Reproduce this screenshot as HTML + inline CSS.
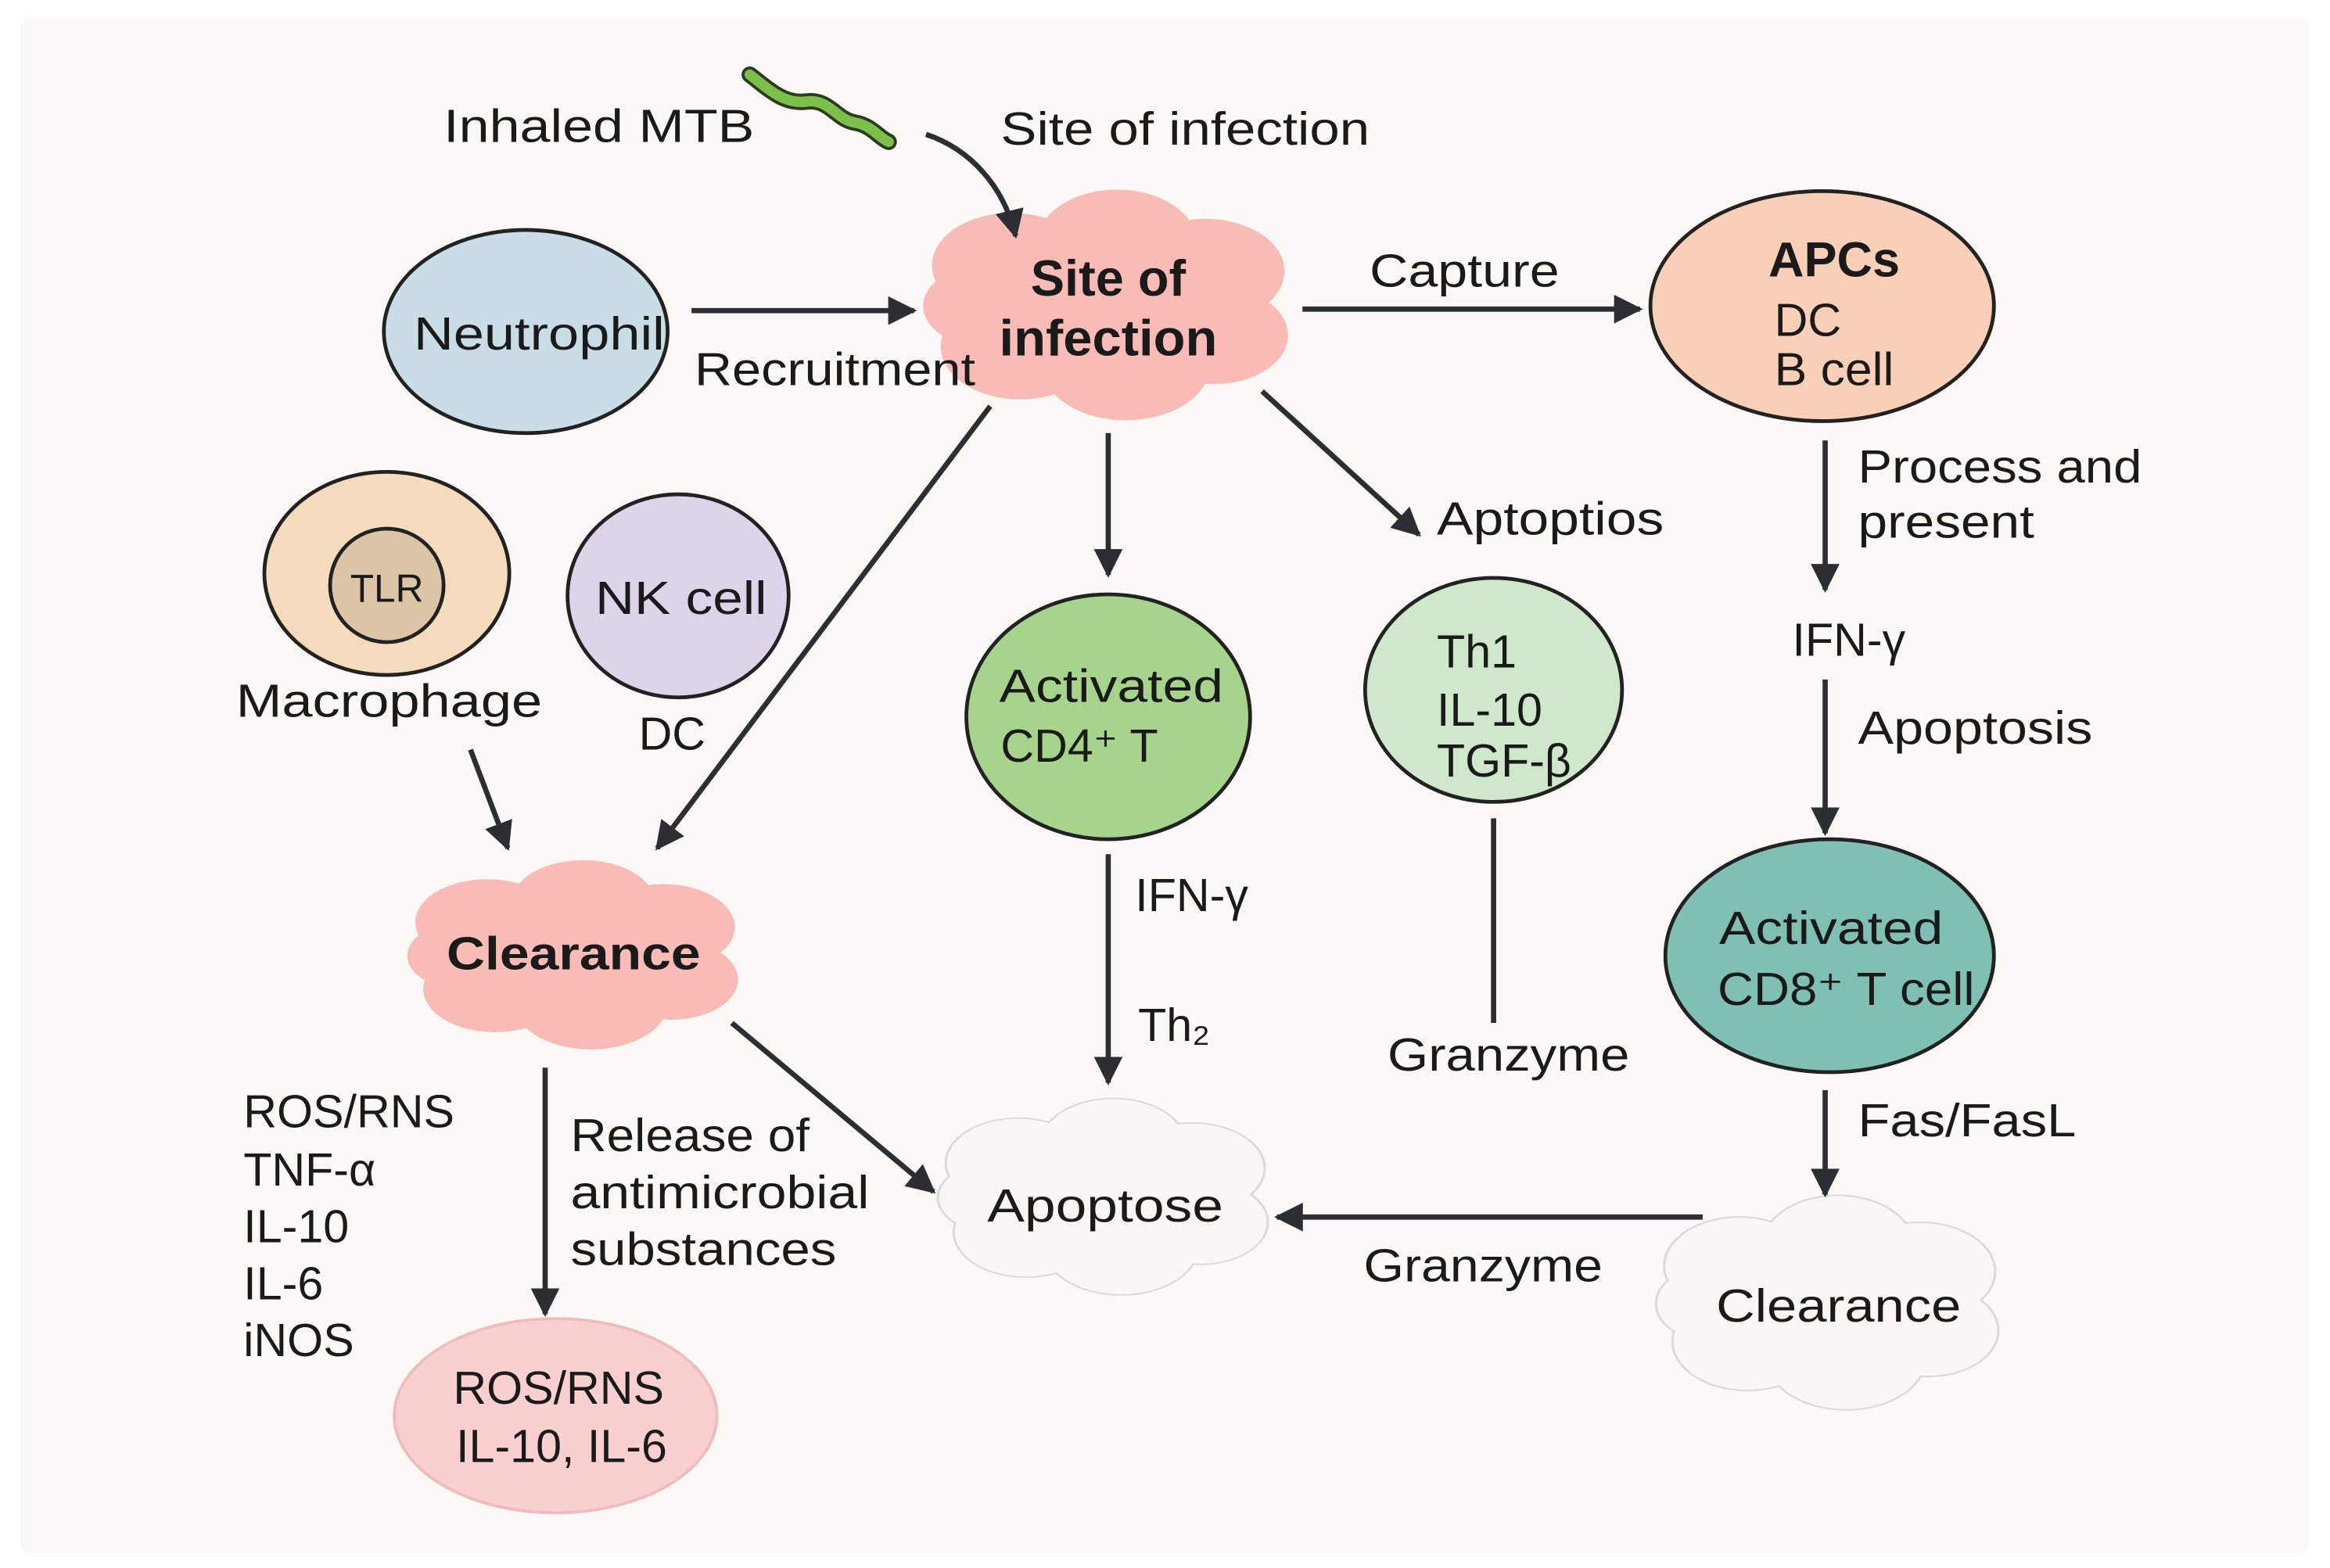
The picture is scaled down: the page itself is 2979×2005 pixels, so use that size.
<!DOCTYPE html>
<html><head><meta charset="utf-8"><style>
html,body{margin:0;padding:0;background:#fff;}
svg{display:block;}
text{font-family:"Liberation Sans",sans-serif;fill:#1a1a1a;}
</style></head><body>
<svg width="2979" height="2005" viewBox="0 0 1560 1050" preserveAspectRatio="none" xmlns="http://www.w3.org/2000/svg">
<defs>
<marker id="a" viewBox="0 0 10 10" refX="9" refY="5" markerWidth="5.5" markerHeight="5.5" orient="auto"><path d="M0,0 L10,5 L0,10 z" fill="#2b2e33"/></marker>
<g id="cl">
<circle cx="-0.55" cy="-0.35" r="0.45"/><circle cx="0.05" cy="-0.55" r="0.45"/><circle cx="0.55" cy="-0.3" r="0.45"/>
<circle cx="0.6" cy="0.25" r="0.42"/><circle cx="0.1" cy="0.5" r="0.48"/><circle cx="-0.5" cy="0.35" r="0.45"/>
<circle cx="-0.7" cy="0" r="0.35"/><circle cx="0" cy="0" r="0.6"/>
</g>
</defs>
<rect width="1560" height="1050" fill="#ffffff"/>
<rect x="14" y="12" width="1532" height="1028" rx="6" fill="#fcf8f5"/>

<!-- clouds -->
<g transform="translate(742,205) scale(118,78)" fill="#f9bbb5"><use href="#cl"/></g>
<g transform="translate(385,640) scale(107,64)" fill="#f9bbb5"><use href="#cl"/></g>
<g transform="translate(740,802) scale(106,66)" fill="#fbf6f4" stroke="#dcd9d7" stroke-width="0.03"><use href="#cl"/></g>
<g transform="translate(740,802) scale(106,66)" fill="#fbf6f4"><use href="#cl"/></g>
<g transform="translate(1225,873) scale(110,72)" fill="#fbf6f4" stroke="#dcd9d7" stroke-width="0.03"><use href="#cl"/></g>
<g transform="translate(1225,873) scale(110,72)" fill="#fbf6f4"><use href="#cl"/></g>

<!-- bacterium -->
<path d="M502,50 C515,60 525,70 540,68 C555,66 560,80 572,82 C584,84 588,92 595,95" fill="none" stroke="#2d3a22" stroke-width="11" stroke-linecap="round"/>
<path d="M502,50 C515,60 525,70 540,68 C555,66 560,80 572,82 C584,84 588,92 595,95" fill="none" stroke="#7cc04a" stroke-width="7" stroke-linecap="round"/>

<!-- nodes -->
<ellipse cx="352" cy="222" rx="95" ry="68" fill="#c9dde7" stroke="#222" stroke-width="2.5"/>
<ellipse cx="1220" cy="205" rx="115" ry="77" fill="#f9cfb8" stroke="#222" stroke-width="2.5"/>
<ellipse cx="259" cy="384" rx="82" ry="68" fill="#f4dbbb" stroke="#222" stroke-width="2.5"/>
<circle cx="259" cy="392" r="38" fill="#dcc4a6" stroke="#222" stroke-width="2.5"/>
<ellipse cx="454" cy="399" rx="74" ry="68" fill="#ddd4ea" stroke="#222" stroke-width="2.5"/>
<ellipse cx="742" cy="480" rx="95" ry="82" fill="#a7d48c" stroke="#222" stroke-width="2.5"/>
<ellipse cx="1000" cy="462" rx="86" ry="75" fill="#cfe7cb" stroke="#222" stroke-width="2.5"/>
<ellipse cx="1225" cy="640" rx="110" ry="78" fill="#80c0b2" stroke="#222" stroke-width="2.5"/>
<ellipse cx="372" cy="948" rx="108" ry="65" fill="#f9d0cf" stroke="#f0bcbb" stroke-width="2"/>

<!-- connectors -->
<g stroke="#2b2e33" stroke-width="3.5" fill="none" marker-end="url(#a)">
<path d="M620,90 C650,100 672,125 680,158"/>
<line x1="463" y1="208" x2="612" y2="208"/>
<line x1="872" y1="207" x2="1098" y2="207"/>
<line x1="315" y1="502" x2="340" y2="568"/>
<line x1="663" y1="272" x2="440" y2="568"/>
<line x1="742" y1="290" x2="742" y2="385"/>
<line x1="845" y1="262" x2="950" y2="358"/>
<line x1="742" y1="572" x2="742" y2="725"/>
<line x1="1222" y1="295" x2="1222" y2="395"/>
<line x1="1222" y1="455" x2="1222" y2="558"/>
<line x1="1222" y1="730" x2="1222" y2="800"/>
<line x1="1140" y1="815" x2="855" y2="815"/>
<line x1="490" y1="685" x2="625" y2="798"/>
<line x1="365" y1="715" x2="365" y2="880"/>
</g>
<line x1="1000" y1="548" x2="1000" y2="685" stroke="#2b2e33" stroke-width="3.5"/>

<!-- text -->
<g font-size="31">
<text x="297" y="95" textLength="208" lengthAdjust="spacingAndGlyphs">Inhaled MTB</text>
<text x="670" y="97" textLength="247" lengthAdjust="spacingAndGlyphs">Site of infection</text>
<text x="742" y="198" text-anchor="middle" font-weight="bold" font-size="34">Site of</text>
<text x="742" y="238" text-anchor="middle" font-weight="bold" font-size="34" textLength="146" lengthAdjust="spacingAndGlyphs">infection</text>
<text x="277" y="234" textLength="168" lengthAdjust="spacingAndGlyphs">Neutrophil</text>
<text x="465" y="258" textLength="188" lengthAdjust="spacingAndGlyphs">Recruitment</text>
<text x="917" y="192" textLength="127" lengthAdjust="spacingAndGlyphs">Capture</text>
<text x="1228" y="185" text-anchor="middle" font-weight="bold" font-size="33">APCs</text>
<text x="1188" y="225">DC</text>
<text x="1188" y="258" textLength="80" lengthAdjust="spacingAndGlyphs">B cell</text>
<text x="259" y="403" text-anchor="middle" font-size="26" fill="#333">TLR</text>
<text x="158" y="480" textLength="205" lengthAdjust="spacingAndGlyphs">Macrophage</text>
<text x="456" y="411" text-anchor="middle" textLength="115" lengthAdjust="spacingAndGlyphs">NK cell</text>
<text x="450" y="502" text-anchor="middle">DC</text>
<text x="962" y="358" textLength="152" lengthAdjust="spacingAndGlyphs">Aptoptios</text>
<text x="744" y="470" text-anchor="middle" textLength="150" lengthAdjust="spacingAndGlyphs">Activated</text>
<text x="670" y="510">CD4⁺ T</text>
<text x="962" y="447">Th1</text>
<text x="962" y="486">IL-10</text>
<text x="962" y="520" textLength="90" lengthAdjust="spacingAndGlyphs">TGF-β</text>
<text x="760" y="610">IFN-γ</text>
<text x="762" y="697">Th₂</text>
<text x="1010" y="717" text-anchor="middle" textLength="162" lengthAdjust="spacingAndGlyphs">Granzyme</text>
<text x="1244" y="323" textLength="190" lengthAdjust="spacingAndGlyphs">Process and</text>
<text x="1244" y="360" textLength="118" lengthAdjust="spacingAndGlyphs">present</text>
<text x="1200" y="439">IFN-γ</text>
<text x="1244" y="498" textLength="157" lengthAdjust="spacingAndGlyphs">Apoptosis</text>
<text x="1226" y="632" text-anchor="middle" textLength="150" lengthAdjust="spacingAndGlyphs">Activated</text>
<text x="1236" y="673" text-anchor="middle" textLength="172" lengthAdjust="spacingAndGlyphs">CD8⁺ T cell</text>
<text x="1244" y="761" textLength="146" lengthAdjust="spacingAndGlyphs">Fas/FasL</text>
<text x="1231" y="885" text-anchor="middle" textLength="164" lengthAdjust="spacingAndGlyphs">Clearance</text>
<text x="913" y="858" textLength="160" lengthAdjust="spacingAndGlyphs">Granzyme</text>
<text x="740" y="818" text-anchor="middle" textLength="158" lengthAdjust="spacingAndGlyphs">Apoptose</text>
<text x="384" y="649" text-anchor="middle" font-weight="bold" textLength="170" lengthAdjust="spacingAndGlyphs">Clearance</text>
<text x="382" y="771" textLength="160" lengthAdjust="spacingAndGlyphs">Release of</text>
<text x="382" y="809" textLength="200" lengthAdjust="spacingAndGlyphs">antimicrobial</text>
<text x="382" y="847" textLength="178" lengthAdjust="spacingAndGlyphs">substances</text>
<text x="163" y="755">ROS/RNS</text>
<text x="163" y="794">TNF-α</text>
<text x="163" y="832">IL-10</text>
<text x="163" y="870">IL-6</text>
<text x="163" y="908">iNOS</text>
<text x="374" y="940" text-anchor="middle">ROS/RNS</text>
<text x="376" y="979" text-anchor="middle">IL-10, IL-6</text>
</g>
</svg>
</body></html>
